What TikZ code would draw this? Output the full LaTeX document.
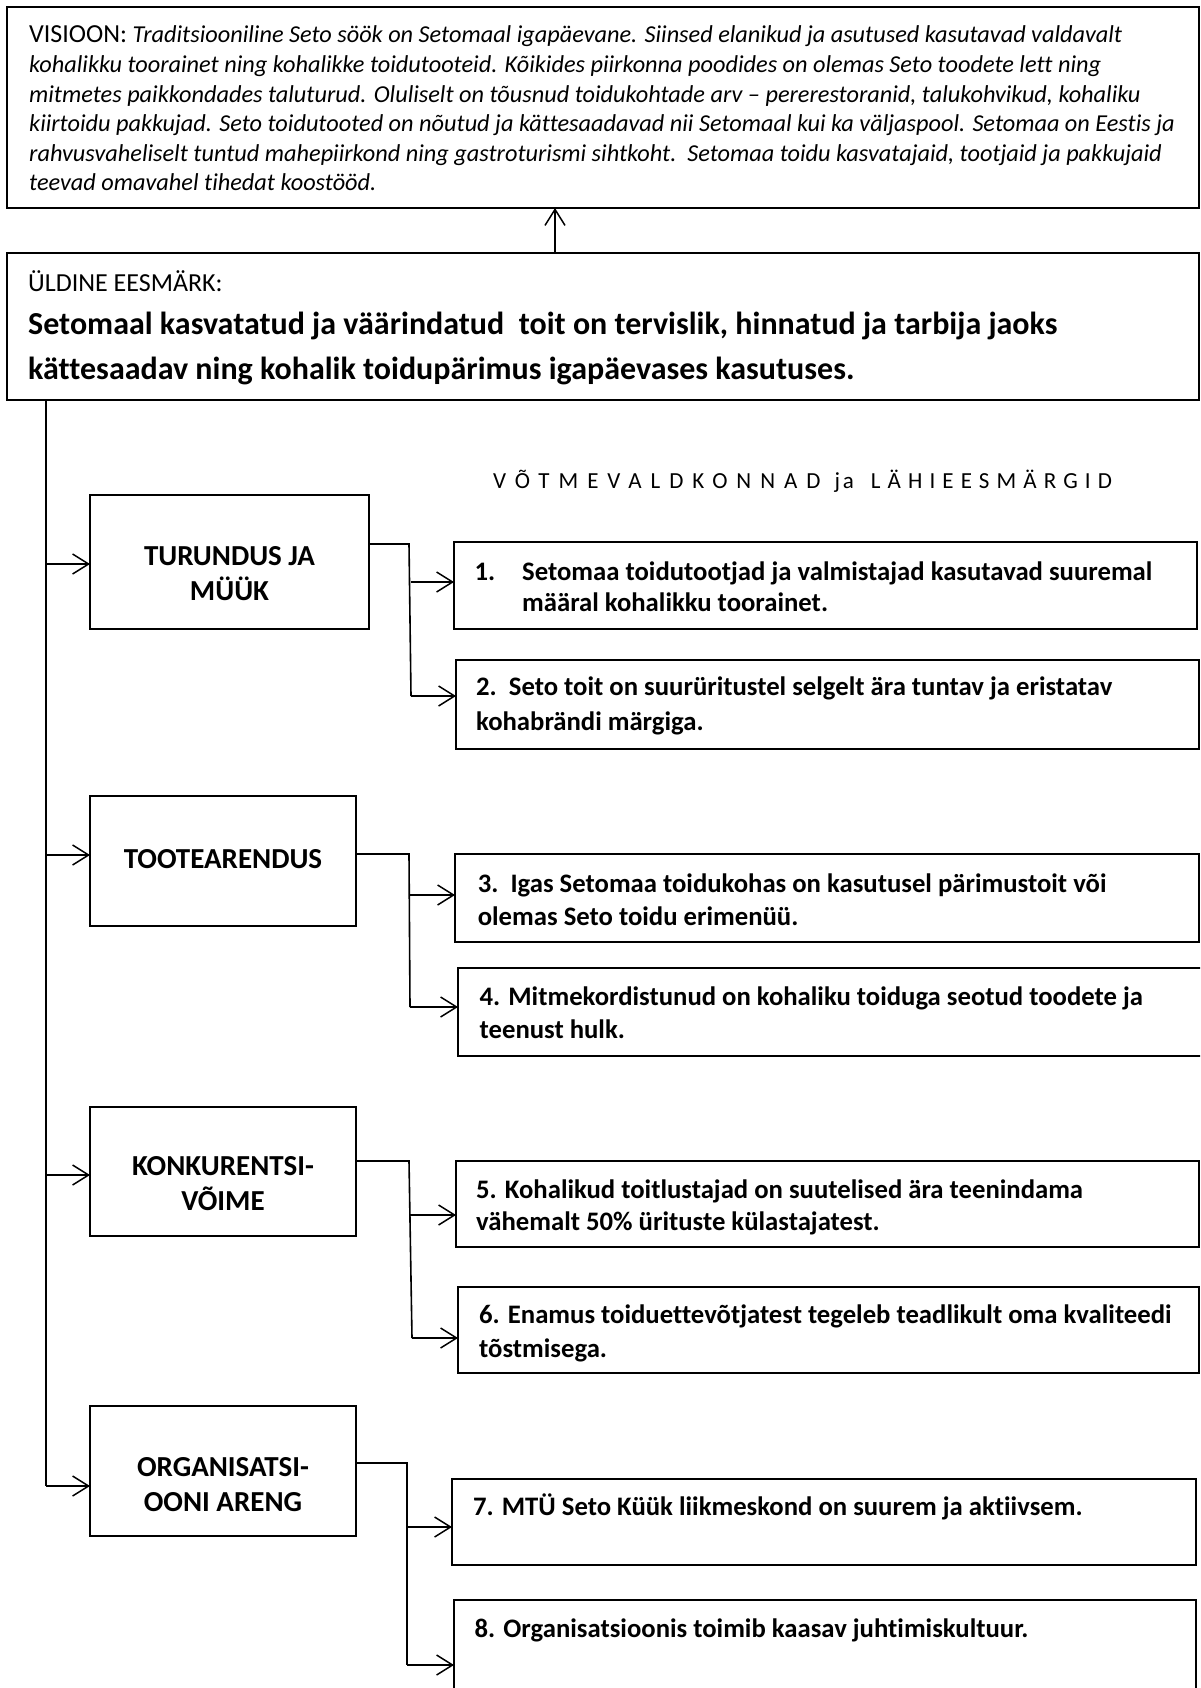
\documentclass[tikz,border=0pt]{standalone}
\usepackage{fontspec}
\setmainfont{Carlito}[Ligatures=NoCommon]
\usetikzlibrary{arrows.meta}
\begin{document}
\begin{tikzpicture}[x=1pt,y=-1pt,
  box/.style={draw, line width=1.8pt, inner sep=0pt, outer sep=0pt, anchor=north west},
  conn/.style={line width=1.6pt},
  arr/.style={conn, -{Straight Barb[length=16pt,width=20pt,line width=1.5pt]}},
  vtxt/.style={anchor=base west, inner sep=0pt, font=\fontsize{24.3}{29}\selectfont\itshape},
  gtxt/.style={anchor=base west, inner sep=0pt, font=\fontsize{32}{38}\selectfont\bfseries},
  btxt/.style={anchor=base west, inner sep=0pt, font=\fontsize{26.7}{32}\selectfont\bfseries},
  ctxt/.style={anchor=center, inner sep=0pt, align=center, font=\fontsize{29}{35}\selectfont\bfseries},
]
\useasboundingbox (0,0) rectangle (1200,1688);
\fill[white] (0,0) rectangle (1200,1688);
\clip (0,0) rectangle (1200,1688);

% boxes
\node[box, minimum width=1192pt, minimum height=201pt] (vis) at (7,7) {};
\node[box, minimum width=1192pt, minimum height=147pt] (goal) at (7,253) {};
\node[box, minimum width=279pt, minimum height=134pt] (c1) at (90,495) {};
\node[box, minimum width=743pt, minimum height=87pt] (b1) at (454,542) {};
\node[box, minimum width=743pt, minimum height=89pt] (b2) at (456,660) {};
\node[box, minimum width=266pt, minimum height=130pt] (c2) at (90,796) {};
\node[box, minimum width=744pt, minimum height=88pt] (b3) at (455,854) {};
\node[box, minimum width=746pt, minimum height=88pt] (b4) at (458,968) {};
\node[box, minimum width=266pt, minimum height=129pt] (c3) at (90,1107) {};
\node[box, minimum width=743pt, minimum height=86pt] (b5) at (456,1161) {};
\node[box, minimum width=741pt, minimum height=86pt] (b6) at (458,1287) {};
\node[box, minimum width=266pt, minimum height=130pt] (c4) at (90,1406) {};
\node[box, minimum width=744pt, minimum height=86pt] (b7) at (452,1479) {};
\node[box, minimum width=742pt, minimum height=110pt] (b8) at (454,1600) {};

% vision text
\node[vtxt] (v1) at (29,43) {{\upshape\fontsize{26}{29}\selectfont VISIOON:} Traditsiooniline Seto söök on Setomaal igapäevane. Siinsed elanikud ja asutused kasutavad valdavalt};
\node[vtxt] (v2) at (29,73) {kohalikku toorainet ning kohalikke toidutooteid. Kõikides piirkonna poodides on olemas Seto toodete lett ning};
\node[vtxt] (v3) at (29,103) {mitmetes paikkondades taluturud. Oluliselt on tõusnud toidukohtade arv – pererestoranid, talukohvikud, kohaliku};
\node[vtxt] (v4) at (29,132) {kiirtoidu pakkujad. Seto toidutooted on nõutud ja kättesaadavad nii Setomaal kui ka väljaspool. Setomaa on Eestis ja};
\node[vtxt] (v5) at (29,162) {rahvusvaheliselt tuntud mahepiirkond ning gastroturismi sihtkoht.\ \ Setomaa toidu kasvatajaid, tootjaid ja pakkujaid};
\node[vtxt] (v6) at (29,191) {teevad omavahel tihedat koostööd.};

% goal text
\node[anchor=base west, inner sep=0pt, font=\fontsize{26}{30}\selectfont] (g0) at (28,291) {ÜLDINE EESMÄRK:};
\node[gtxt] (g1) at (28,334) {Setomaal kasvatatud ja väärindatud\ \ toit on tervislik, hinnatud ja tarbija jaoks};
\node[gtxt] (g2) at (28,379) {kättesaadav ning kohalik toidupärimus igapäevases kasutuses.};

% heading
\node[anchor=base west, inner sep=0pt, font=\fontsize{23}{27}\selectfont] (hd) at (493,488)
  {{\addfontfeature{LetterSpace=39}VÕTMEVALDKONNAD}\hspace{14pt}{\addfontfeature{LetterSpace=12}ja}\hspace{17pt}{\addfontfeature{LetterSpace=31}LÄHIEESMÄRGID}};

% category texts
\node[ctxt] (t1) at (229.5,574) {TURUNDUS JA\\MÜÜK};
\node[ctxt] (t2) at (223,859) {TOOTEARENDUS};
\node[ctxt] (t3) at (223,1184) {KONKURENTSI-\\VÕIME};
\node[ctxt] (t4) at (223,1485) {ORGANISATSI-\\OONI ARENG};

% goal box texts
\node[btxt] (n1) at (474.5,580) {1.};
\node[btxt] (s1a) at (522,580) {Setomaa toidutootjad ja valmistajad kasutavad suuremal};
\node[btxt] (s1b) at (522,611) {määral kohalikku toorainet.};
\node[btxt] (s2a) at (476,695) {2.\ \ Seto toit on suurüritustel selgelt ära tuntav ja eristatav};
\node[btxt] (s2b) at (476,730) {kohabrändi märgiga.};
\node[btxt] (s3a) at (477.6,892) {3.\ \ Igas Setomaa toidukohas on kasutusel pärimustoit või};
\node[btxt] (s3b) at (477.6,925) {olemas Seto toidu erimenüü.};
\node[btxt] (s4a) at (479.5,1005) {4. Mitmekordistunud on kohaliku toiduga seotud toodete ja};
\node[btxt] (s4b) at (479.5,1038) {teenust hulk.};
\node[btxt] (s5a) at (476,1198) {5. Kohalikud toitlustajad on suutelised ära teenindama};
\node[btxt] (s5b) at (476,1230) {vähemalt 50\% ürituste külastajatest.};
\node[btxt] (s6a) at (479,1323) {6. Enamus toiduettevõtjatest tegeleb teadlikult oma kvaliteedi};
\node[btxt] (s6b) at (479,1357) {tõstmisega.};
\node[btxt] (s7) at (473,1515) {7. MTÜ Seto Küük liikmeskond on suurem ja aktiivsem.};
\node[btxt] (s8) at (474.5,1637) {8. Organisatsioonis toimib kaasav juhtimiskultuur.};

% vision arrow
\draw[arr] (goal.north -| 555,0) -- (vis.south -| 555,0);

% trunk
\coordinate (tr) at (46,1486);
\draw[conn] (goal.south -| tr) -- (tr);
\draw[arr] (46,564) -- (c1.west |- 46,564);
\draw[arr] (46,855) -- (c2.west |- 46,855);
\draw[arr] (46,1175) -- (c3.west |- 46,1175);
\draw[arr] (tr) -- (c4.west |- tr);

% branches
\coordinate (k1) at (409,544); \coordinate (k1a) at (411,582); \coordinate (k1b) at (411,696);
\draw[conn] (c1.east |- k1) -- (k1) -- (411,696);
\draw[arr] (k1a) -- (b1.west |- k1a);
\draw[arr] (k1b) -- (b2.west |- k1b);

\coordinate (k2) at (409,854); \coordinate (k2a) at (410,895); \coordinate (k2b) at (410,1007);
\draw[conn] (c2.east |- k2) -- (k2) -- (410,1007);
\draw[arr] (k2a) -- (b3.west |- k2a);
\draw[arr] (k2b) -- (b4.west |- k2b);

\coordinate (k3) at (409,1161); \coordinate (k3a) at (410,1215); \coordinate (k3b) at (412,1338);
\draw[conn] (c3.east |- k3) -- (k3) -- (412,1338);
\draw[arr] (k3a) -- (b5.west |- k3a);
\draw[arr] (k3b) -- (b6.west |- k3b);

\coordinate (k4) at (407,1463); \coordinate (k4a) at (407,1527); \coordinate (k4b) at (407,1665);
\draw[conn] (c4.east |- k4) -- (k4) -- (k4b);
\draw[arr] (k4a) -- (b7.west |- k4a);
\draw[arr] (k4b) -- (b8.west |- k4b);
\end{tikzpicture}
\end{document}
